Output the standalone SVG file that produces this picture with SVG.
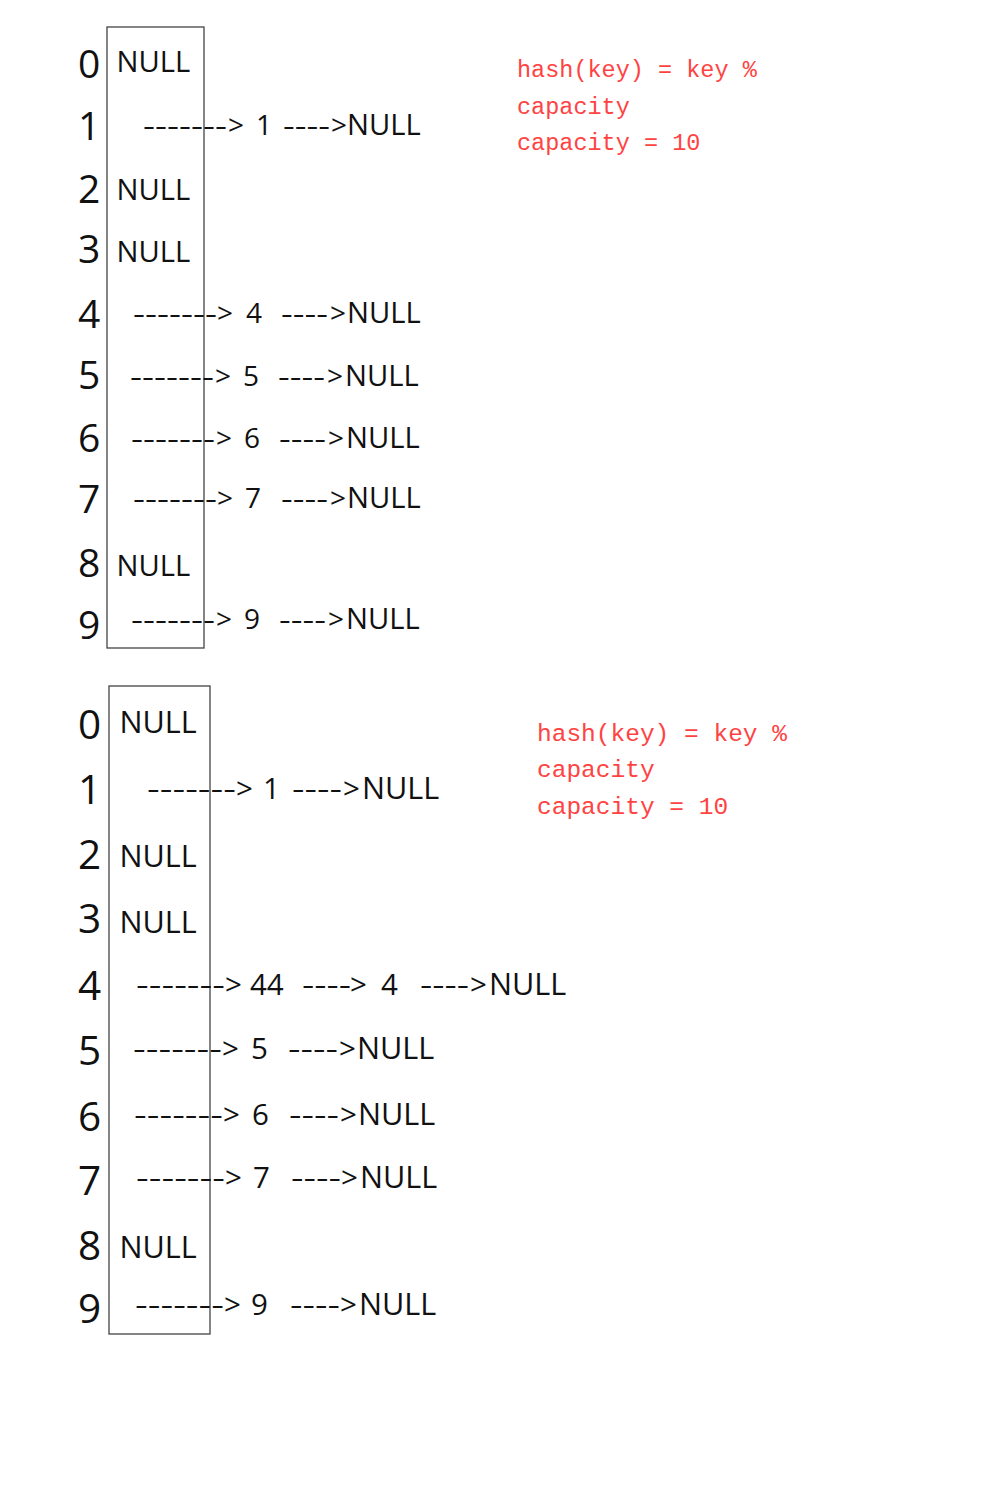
<svg xmlns="http://www.w3.org/2000/svg" width="992" height="1500" viewBox="0 0 992 1500">
<style>
.bg{fill:#ffffff}
.box{fill:none;stroke:#444444;stroke-width:1.3}
.idx{font-family:"Open Sans","Noto Sans",sans-serif;font-size:39px;fill:#111111}
.t{font-family:"Open Sans","Noto Sans",sans-serif;font-size:28px;fill:#111111}
.n{font-family:"Open Sans","Noto Sans",sans-serif;font-size:29.2px;fill:#111111}
.idx2{font-family:"Open Sans","Noto Sans",sans-serif;font-size:40.5px;fill:#111111}
.t2{font-family:"Open Sans","Noto Sans",sans-serif;font-size:29.5px;fill:#111111}
.n2{font-family:"Open Sans","Noto Sans",sans-serif;font-size:30.6px;fill:#111111}
.red{font-family:"Liberation Mono","DejaVu Sans Mono",monospace;font-size:23.5px;fill:#ff4343}
.red2{font-family:"Liberation Mono","DejaVu Sans Mono",monospace;font-size:24.5px;fill:#ff4343}
</style>
<rect class="bg" x="0" y="0" width="992" height="1500"/>

<g id="table-top">
<rect class="box" x="107" y="27" width="97" height="621"/>
<g id="top-index">
<text class="idx" x="78" y="78">0</text>
<text class="idx" x="78" y="140">1</text>
<text class="idx" x="78" y="203">2</text>
<text class="idx" x="78" y="263">3</text>
<text class="idx" x="78" y="328">4</text>
<text class="idx" x="78" y="389">5</text>
<text class="idx" x="78" y="452">6</text>
<text class="idx" x="78" y="513">7</text>
<text class="idx" x="78" y="577">8</text>
<text class="idx" x="78" y="639">9</text>
</g>
<g id="top-row0"><text class="n" x="116.5" y="72">NULL</text></g>
<g id="top-row1">
<text class="t" x="143" y="135" textLength="84" lengthAdjust="spacingAndGlyphs">-------</text>
<text class="t" x="228" y="135">&gt;</text>
<text class="t" x="256" y="135">1</text>
<text class="t" x="283" y="135" textLength="47" lengthAdjust="spacingAndGlyphs">----</text>
<text class="t" x="331" y="135">&gt;</text>
<text class="n" x="347" y="135">NULL</text>
</g>
<g id="top-row2"><text class="n" x="116.5" y="200">NULL</text></g>
<g id="top-row3"><text class="n" x="116.5" y="262">NULL</text></g>
<g id="top-row4">
<text class="t" x="133" y="323" textLength="84" lengthAdjust="spacingAndGlyphs">-------</text>
<text class="t" x="217" y="323">&gt;</text>
<text class="t" x="246" y="323">4</text>
<text class="t" x="281" y="323" textLength="47" lengthAdjust="spacingAndGlyphs">----</text>
<text class="t" x="330" y="323">&gt;</text>
<text class="n" x="347" y="323">NULL</text>
</g>
<g id="top-row5">
<text class="t" x="130" y="386" textLength="84" lengthAdjust="spacingAndGlyphs">-------</text>
<text class="t" x="215" y="386">&gt;</text>
<text class="t" x="243" y="386">5</text>
<text class="t" x="278" y="386" textLength="47" lengthAdjust="spacingAndGlyphs">----</text>
<text class="t" x="327" y="386">&gt;</text>
<text class="n" x="345" y="386">NULL</text>
</g>
<g id="top-row6">
<text class="t" x="131" y="448" textLength="84" lengthAdjust="spacingAndGlyphs">-------</text>
<text class="t" x="216" y="448">&gt;</text>
<text class="t" x="244" y="448">6</text>
<text class="t" x="279" y="448" textLength="47" lengthAdjust="spacingAndGlyphs">----</text>
<text class="t" x="328" y="448">&gt;</text>
<text class="n" x="346" y="448">NULL</text>
</g>
<g id="top-row7">
<text class="t" x="133" y="508" textLength="84" lengthAdjust="spacingAndGlyphs">-------</text>
<text class="t" x="217" y="508">&gt;</text>
<text class="t" x="245" y="508">7</text>
<text class="t" x="281" y="508" textLength="47" lengthAdjust="spacingAndGlyphs">----</text>
<text class="t" x="330" y="508">&gt;</text>
<text class="n" x="347" y="508">NULL</text>
</g>
<g id="top-row8"><text class="n" x="116.5" y="576">NULL</text></g>
<g id="top-row9">
<text class="t" x="131" y="629" textLength="84" lengthAdjust="spacingAndGlyphs">-------</text>
<text class="t" x="216" y="629">&gt;</text>
<text class="t" x="244" y="629">9</text>
<text class="t" x="279" y="629" textLength="47" lengthAdjust="spacingAndGlyphs">----</text>
<text class="t" x="328" y="629">&gt;</text>
<text class="n" x="346" y="629">NULL</text>
</g>
</g>

<g id="note-top">
<text class="red" x="517" y="77">hash(key) = key %</text>
<text class="red" x="517" y="114">capacity</text>
<text class="red" x="517" y="150">capacity = 10</text>
</g>

<g id="table-bottom">
<rect class="box" x="109" y="686" width="101" height="648"/>
<g id="bottom-index">
<text class="idx2" x="78" y="739">0</text>
<text class="idx2" x="78" y="804">1</text>
<text class="idx2" x="78" y="869">2</text>
<text class="idx2" x="78" y="933">3</text>
<text class="idx2" x="78" y="1000">4</text>
<text class="idx2" x="78" y="1065">5</text>
<text class="idx2" x="78" y="1131">6</text>
<text class="idx2" x="78" y="1195">7</text>
<text class="idx2" x="78" y="1260">8</text>
<text class="idx2" x="78" y="1323">9</text>
</g>
<g id="bottom-row0"><text class="n2" x="119.5" y="733">NULL</text></g>
<g id="bottom-row1">
<text class="t2" x="147" y="799" textLength="89" lengthAdjust="spacingAndGlyphs">-------</text>
<text class="t2" x="236" y="799">&gt;</text>
<text class="t2" x="263" y="799">1</text>
<text class="t2" x="292" y="799" textLength="50" lengthAdjust="spacingAndGlyphs">----</text>
<text class="t2" x="343" y="799">&gt;</text>
<text class="n2" x="362" y="799">NULL</text>
</g>
<g id="bottom-row2"><text class="n2" x="119.5" y="867">NULL</text></g>
<g id="bottom-row3"><text class="n2" x="119.5" y="933">NULL</text></g>
<g id="bottom-row4">
<text class="t2" x="136" y="995" textLength="89" lengthAdjust="spacingAndGlyphs">-------</text>
<text class="t2" x="225" y="995">&gt;</text>
<text class="t2" x="250" y="995">44</text>
<text class="t2" x="302" y="995" textLength="49" lengthAdjust="spacingAndGlyphs">----</text>
<text class="t2" x="350" y="995">&gt;</text>
<text class="t2" x="381" y="995">4</text>
<text class="t2" x="420" y="995" textLength="49" lengthAdjust="spacingAndGlyphs">----</text>
<text class="t2" x="470" y="995">&gt;</text>
<text class="n2" x="489" y="995">NULL</text>
</g>
<g id="bottom-row5">
<text class="t2" x="133" y="1059" textLength="89" lengthAdjust="spacingAndGlyphs">-------</text>
<text class="t2" x="222" y="1059">&gt;</text>
<text class="t2" x="251" y="1059">5</text>
<text class="t2" x="288" y="1059" textLength="50" lengthAdjust="spacingAndGlyphs">----</text>
<text class="t2" x="339" y="1059">&gt;</text>
<text class="n2" x="357" y="1059">NULL</text>
</g>
<g id="bottom-row6">
<text class="t2" x="134" y="1125" textLength="89" lengthAdjust="spacingAndGlyphs">-------</text>
<text class="t2" x="223" y="1125">&gt;</text>
<text class="t2" x="252" y="1125">6</text>
<text class="t2" x="289" y="1125" textLength="50" lengthAdjust="spacingAndGlyphs">----</text>
<text class="t2" x="340" y="1125">&gt;</text>
<text class="n2" x="358" y="1125">NULL</text>
</g>
<g id="bottom-row7">
<text class="t2" x="136" y="1188" textLength="89" lengthAdjust="spacingAndGlyphs">-------</text>
<text class="t2" x="225" y="1188">&gt;</text>
<text class="t2" x="253" y="1188">7</text>
<text class="t2" x="291" y="1188" textLength="50" lengthAdjust="spacingAndGlyphs">----</text>
<text class="t2" x="341" y="1188">&gt;</text>
<text class="n2" x="360" y="1188">NULL</text>
</g>
<g id="bottom-row8"><text class="n2" x="119.5" y="1258">NULL</text></g>
<g id="bottom-row9">
<text class="t2" x="135" y="1315" textLength="89" lengthAdjust="spacingAndGlyphs">-------</text>
<text class="t2" x="224" y="1315">&gt;</text>
<text class="t2" x="251" y="1315">9</text>
<text class="t2" x="290" y="1315" textLength="50" lengthAdjust="spacingAndGlyphs">----</text>
<text class="t2" x="340" y="1315">&gt;</text>
<text class="n2" x="359" y="1315">NULL</text>
</g>
</g>

<g id="note-bottom">
<text class="red2" x="537" y="741">hash(key) = key %</text>
<text class="red2" x="537" y="777">capacity</text>
<text class="red2" x="537" y="814">capacity = 10</text>
</g>
</svg>
